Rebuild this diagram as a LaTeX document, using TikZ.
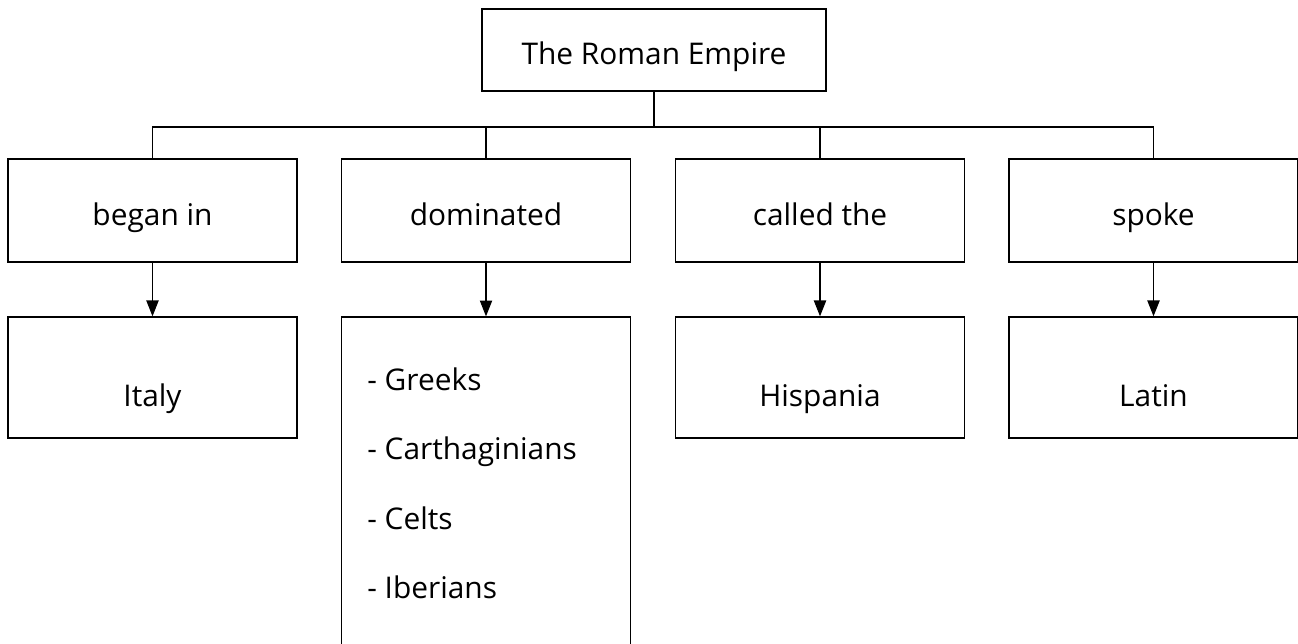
\documentclass[tikz,border=0pt]{standalone}
\usepackage{fontspec}
\setmainfont{Open Sans}
\usetikzlibrary{arrows.meta}
\tikzset{
	box/.style={draw, line width=0.8pt, minimum width=5.78cm, minimum height=2.06cm,
		text height=20.75pt, text depth=3.7pt},
	lowbox/.style={box, minimum height=2.42cm, text height=37pt},
	link/.style={line width=0.6pt},
	pointer/.style={link, -{Triangle[length=9pt,width=7pt]}},
	peoplelist/.style={anchor=base west, align=left, inner sep=0pt,
		font=\fontsize{17}{39.6}\selectfont}
}
\begin{document}
\begin{tikzpicture}[x=0.02cm,y=-0.02cm,font=\fontsize{17}{21}\selectfont]
	\clip (0,0) rectangle (1298,644);
	\node[box,minimum width=6.88cm,minimum height=1.64cm] (empire) at (654,50) {The Roman Empire};
	\node[box] (began) at (152.5,210.5) {began in};
	\node[box] (dominated) at (486,210.5) {dominated};
	\node[box] (called) at (820,210.5) {called the};
	\node[box] (spoke) at (1153.5,210.5) {spoke};
	\node[lowbox] (italy) at (152.5,377.5) {Italy};
	\node[box,minimum height=6.86cm] (peoples) at (486,488.5) {};
	\node[lowbox] (hispania) at (820,377.5) {Hispania};
	\node[lowbox] (latin) at (1153.5,377.5) {Latin};
	% base of the last line
	\node[peoplelist] (names) at (367,599) {- Greeks\\- Carthaginians\\- Celts\\- Iberians};
	% tree lines
	\coordinate (bus) at (654,127);
	\draw[link] (empire) -- (bus);
	\draw[link] (began.north) |- (bus) -| (spoke.north);
	\draw[link] (dominated.north) -- (dominated.north |- bus);
	\draw[link] (called.north) -- (called.north |- bus);
	\foreach \a/\b in {began/italy,dominated/peoples,called/hispania,spoke/latin}
		\draw[pointer] (\a) -- (\b);
\end{tikzpicture}
\end{document}
